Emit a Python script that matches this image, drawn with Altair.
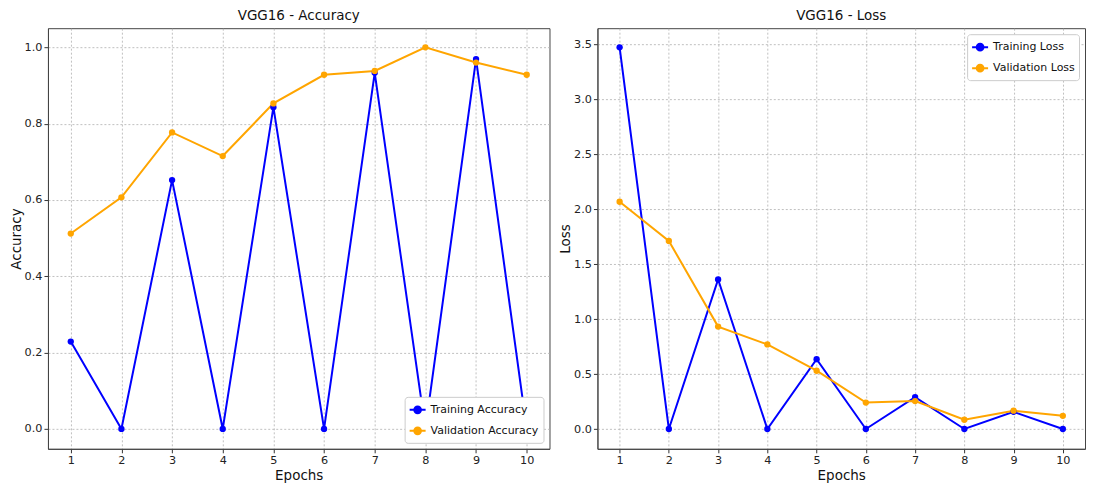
import altair as alt
import pandas as pd

epochs = list(range(1, 11))
train_acc = [0.229, 0.0, 0.652, 0.0, 0.843, 0.0, 0.933, 0.0, 0.969, 0.0]
val_acc = [0.512, 0.607, 0.777, 0.715, 0.853, 0.928, 0.938, 1.0, 0.960, 0.928]
train_loss = [3.47, 0.0, 1.359, 0.0, 0.635, 0.0, 0.29, 0.0, 0.156, 0.0]
val_loss = [2.066, 1.71, 0.931, 0.769, 0.53, 0.24, 0.254, 0.084, 0.167, 0.12]

acc_names = ["Training Accuracy", "Validation Accuracy"]
loss_names = ["Training Loss", "Validation Loss"]
acc_ticks = [0.0, 0.2, 0.4, 0.6, 0.8, 1.0]
loss_ticks = [0.0, 0.5, 1.0, 1.5, 2.0, 2.5, 3.0, 3.5]

acc_df = pd.DataFrame({
    "epoch": epochs * 2,
    "value": train_acc + val_acc,
    "series": [acc_names[0]] * 10 + [acc_names[1]] * 10,
})
loss_df = pd.DataFrame({
    "epoch": epochs * 2,
    "value": train_loss + val_loss,
    "series": [loss_names[0]] * 10 + [loss_names[1]] * 10,
})

SYM = "M-1,0L1,0M0.42,0A0.42,0.42 0 1 1 -0.42,0A0.42,0.42 0 1 1 0.42,0Z"
COLORS = ["#0000ff", "#ffa500"]


def panel(df, title, ytitle, ydomain, yticks, names, orient, width):
    color = alt.Color(
        "series:N",
        scale=alt.Scale(domain=names, range=COLORS),
        legend=alt.Legend(
            title=None, orient=orient, offset=6, symbolType=SYM,
            symbolSize=256, symbolStrokeWidth=2, rowPadding=4,
            padding=4, labelOffset=4, labelFontSize=11,
            fillColor="white", strokeColor="#cccccc", cornerRadius=3,
        ),
    )
    return (
        alt.Chart(df, title=title)
        .mark_line(strokeWidth=2, point=alt.OverlayMarkDef(filled=True, size=40))
        .encode(
            x=alt.X("epoch:Q", scale=alt.Scale(domain=[0.55, 10.45], nice=False, zero=False),
                    axis=alt.Axis(values=epochs, format="d", title="Epochs", titlePadding=2)),
            y=alt.Y("value:Q", scale=alt.Scale(domain=ydomain, nice=False, zero=False),
                    axis=alt.Axis(values=yticks, format=".1f", title=ytitle, titlePadding=1)),
            color=color,
        )
        .properties(width=width, height=421)
    )


left = panel(acc_df, "VGG16 - Accuracy", "Accuracy", [-0.052, 1.05], acc_ticks,
             acc_names, "bottom-right", 502)
right = panel(loss_df, "VGG16 - Loss", "Loss", [-0.18, 3.644], loss_ticks,
              loss_names, "top-right", 488)

chart = (
    alt.hconcat(left, right, spacing=7)
    .resolve_scale(color="independent")
    .properties(padding=0)
    .configure(font="DejaVu Sans")
    .configure_view(stroke="#444444", strokeWidth=1)
    .configure_axis(
        labelFont="DejaVu Sans", labelFontSize=11.25, labelColor="#222222",
        titleFont="DejaVu Sans", titleFontSize=13.5, titleFontWeight="normal",
        titleColor="#111111", tickColor="#333333", tickSize=4, domainColor="#444444",
        gridColor="#b0b0b0", gridDash=[2, 2], gridWidth=0.8,
        labelPadding=2,
    )
    .configure_title(font="DejaVu Sans", fontSize=13.5, fontWeight="normal",
                     color="#111111", offset=6)
    .configure_legend(labelFont="DejaVu Sans", labelColor="#111111")
)

chart.save("out.html", embed_options={"renderer": "svg", "actions": False})
